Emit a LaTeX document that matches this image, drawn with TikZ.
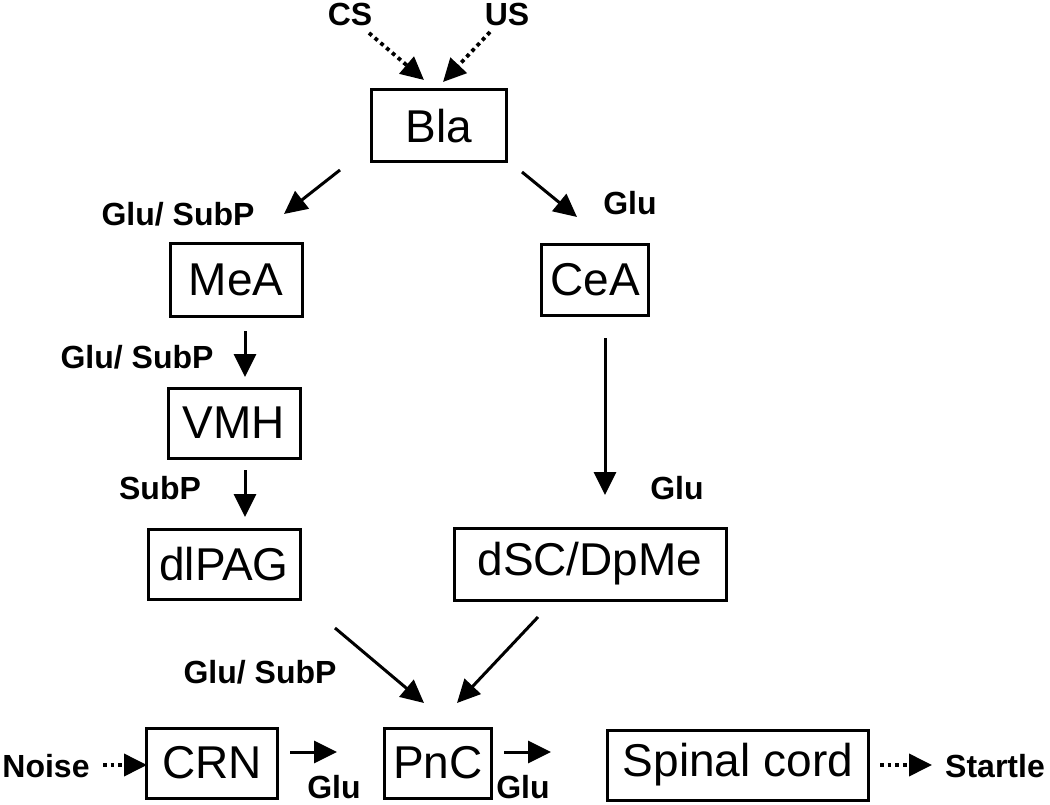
\documentclass[tikz,border=0pt]{standalone}
\usepackage{fontspec}
\setmainfont{Liberation Sans}
\usetikzlibrary{arrows.meta}
\begin{document}
\begin{tikzpicture}[x=1pt,y=-1pt,
  box/.style={draw, line width=3pt, inner sep=0pt, font=\fontsize{46}{50}\selectfont, anchor=center},
  lbl/.style={font=\fontsize{32}{36}\selectfont\bfseries, inner sep=0pt, anchor=center},
  arr/.style={line width=3pt, -{Triangle[length=23pt,width=22pt]}},
  dotarr/.style={line width=3.8pt, dash pattern=on 3.8pt off 3.8pt, -{Triangle[length=23pt,width=22pt]}}]
\useasboundingbox (0,0) rectangle (1050,805);
% boxes
\node[box, minimum width=135pt, minimum height=72pt] (bla) at (439,126) {Bla};
\node[box, minimum width=132pt, minimum height=72pt] (mea) at (236,280) {MeA};
\node[box, minimum width=107pt, minimum height=70pt] (cea) at (595,280) {CeA};
\node[box, minimum width=132pt, minimum height=70pt] (vmh) at (234,423) {VMH};
\node[box, minimum width=152pt, minimum height=70pt] (dlpag) at (224,564) {dlPAG};
\node[box, minimum width=272pt, minimum height=72pt] (dsc) at (590,564) {dSC/DpMe};
\node[box, minimum width=131pt, minimum height=70pt] (crn) at (212,763) {CRN};
\node[box, minimum width=107pt, minimum height=70pt] (pnc) at (438,763) {PnC};
\node[box, minimum width=261pt, minimum height=70pt] (sc) at (738,765) {Spinal cord};
% labels
\node[lbl] (cs) at (350,14) {CS};
\node[lbl] (us) at (507,14) {US};
\node[lbl] (l1) at (178,214) {Glu/ SubP};
\node[lbl] (l2) at (630,203) {Glu};
\node[lbl] (l3) at (137,357) {Glu/ SubP};
\node[lbl] (l4) at (160,488) {SubP};
\node[lbl] (l5) at (677,488) {Glu};
\node[lbl] (l6) at (260,672) {Glu/ SubP};
\node[lbl] (noise) at (46,766) {Noise};
\node[lbl] (l7) at (334,787) {Glu};
\node[lbl] (l8) at (523,787) {Glu};
\node[lbl] (startle) at (995,766) {Startle};
% free-end coordinates
\coordinate (cs1) at (369,33);  \coordinate (cs2) at (424,80);
\coordinate (us1) at (490,32);  \coordinate (us2) at (443,82);
\coordinate (b1) at (340,170);  \coordinate (b2) at (284,214);
\coordinate (b3) at (522,172);  \coordinate (b4) at (577,217);
\coordinate (m1) at (245,331);  \coordinate (m2) at (245,377);
\coordinate (v1) at (245,470);  \coordinate (v2) at (245,517);
\coordinate (c1) at (605,338);  \coordinate (c2) at (605,495);
\coordinate (d1) at (335,628);  \coordinate (d2) at (424,703);
\coordinate (e1) at (538,617);  \coordinate (e2) at (457,703);
\coordinate (n1) at (103,765);  \coordinate (n2) at (147,765);
\coordinate (r1) at (290,752);  \coordinate (r2) at (337,752);
\coordinate (p1) at (504,752);  \coordinate (p2) at (551,752);
\coordinate (s1) at (880,765);  \coordinate (s2) at (932,765);
% connectors
\draw[dotarr] (cs1) -- (cs2);
\draw[dotarr] (us1) -- (us2);
\draw[arr] (b1) -- (b2);
\draw[arr] (b3) -- (b4);
\draw[arr] (m1) -- (m2);
\draw[arr] (v1) -- (v2);
\draw[arr] (c1) -- (c2);
\draw[arr] (d1) -- (d2);
\draw[arr] (e1) -- (e2);
\draw[dotarr] (n1) -- (n2);
\draw[arr] (r1) -- (r2);
\draw[arr] (p1) -- (p2);
\draw[dotarr] (s1) -- (s2);
\end{tikzpicture}
\end{document}
